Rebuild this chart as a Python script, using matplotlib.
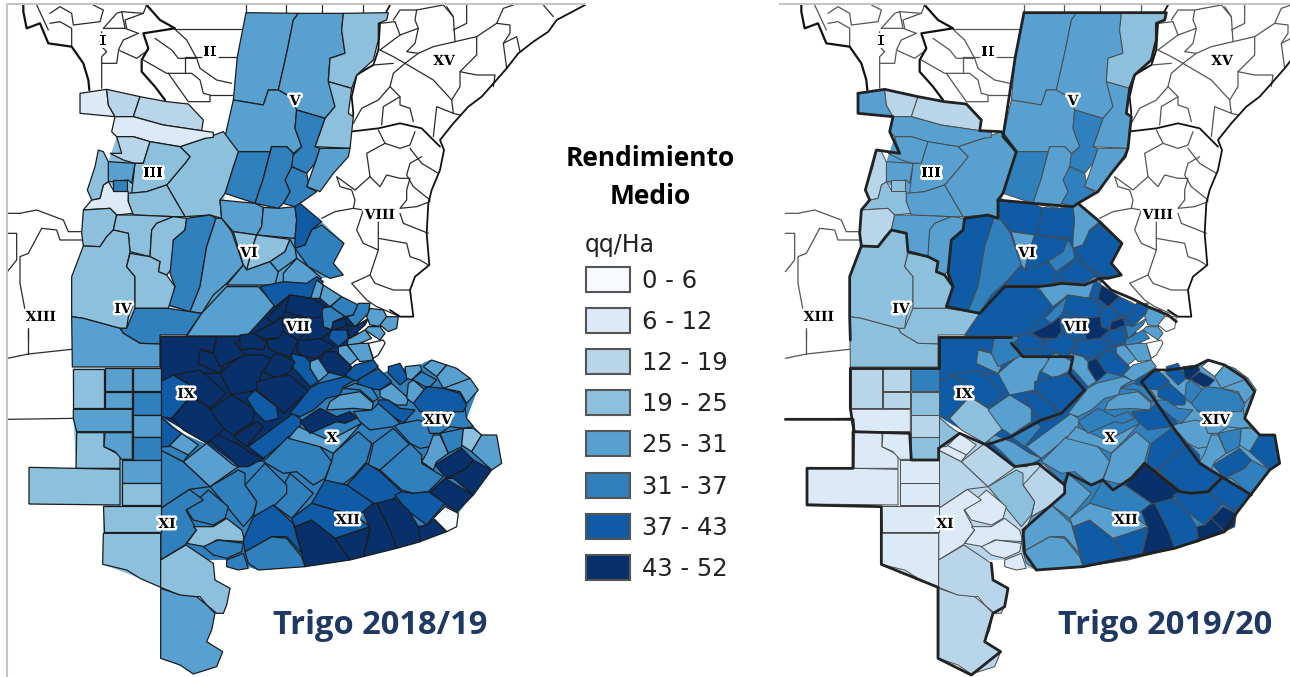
import matplotlib
matplotlib.use("Agg")
import matplotlib.pyplot as plt
import matplotlib.patheffects as pe
from matplotlib.patches import Polygon, Rectangle

# Clases de la leyenda
RANGOS = ["0 - 6", "6 - 12", "12 - 19", "19 - 25", "25 - 31", "31 - 37", "37 - 43", "43 - 52"]
COLORES = ["#f7fbff", "#dce9f6", "#b9d5ea", "#8dc0dd", "#57a0cf", "#3080bd", "#0f5ba6", "#08306b"]

# Departamentos, en coordenadas de trazado (x3) con origen propio
ORIGEN_N = (0, 0)
DEPTOS_N = [
    [(738,38),(895,40),(880,60),(862,150),(835,270),(805,270),(790,315),(700,300),(712,170)],
    [(895,40),(1030,40),(1025,90),(1035,160),(990,175),(985,240),(1005,320),(975,355),(890,330),(870,290),(835,270),(862,150),(880,60)],
    [(1030,40),(1165,38),(1160,60),(1135,70),(1135,120),(1120,180),(1070,225),(1055,265),(985,245),(990,175),(1035,160),(1025,90)],
    [(985,245),(1055,265),(1045,340),(1060,350),(1050,445),(945,440),(975,355),(1005,320)],
    [(700,300),(790,315),(805,270),(835,270),(870,290),(890,330),(885,385),(905,440),(880,460),(860,440),(815,440),(810,455),(715,455),(675,410)],
    [(890,330),(975,355),(945,440),(960,445),(945,490),(920,520),(875,500),(875,470),(905,440),(885,385)],
    [(960,445),(1050,445),(1045,470),(1000,520),(960,575),(920,560),(945,490)],
    [(875,500),(920,520),(925,545),(920,560),(950,575),(900,610),(885,620),(850,610),(870,575),(855,540)],
    [(715,455),(810,455),(790,535),(765,610),(675,580),(700,500)],
    [(815,440),(860,440),(880,460),(875,500),(855,540),(870,575),(850,610),(835,625),(765,610),(790,535)],
    [(615,415),(670,395),(715,455),(700,500),(675,580),(660,600),(665,655),(630,645),(555,650),(520,590),(500,555),(555,490),(570,470),(540,440)],
    [(240,280),(320,268),(325,315),(345,350),(240,340)],
    [(320,268),(420,290),(400,350),(345,350),(325,315)],
    [(420,290),(500,305),(565,312),(610,360),(605,392),(490,375),(400,350)],
    [(345,350),(400,350),(490,375),(605,392),(640,397),(640,412),(615,415),(540,440),(450,425),(400,410),(350,410),(335,395)],
    [(350,410),(400,410),(450,425),(430,490),(405,490),(370,480),(330,460),(365,460)],
    [(450,425),(540,440),(570,470),(555,490),(500,555),(440,575),(395,580),(405,490),(430,490)],
    [(325,485),(405,490),(395,550),(385,540),(340,545),(325,545)],
    [(310,555),(325,545),(340,570),(385,575),(385,605),(400,640),(350,645),(330,625),(250,630),(275,600),(300,595)],
    [(340,540),(382,540),(382,572),(340,572)],
    [(295,450),(310,455),(325,485),(325,545),(310,555),(300,595),(275,600),(262,570),(285,500)],
    [(385,580),(440,575),(500,555),(520,590),(555,650),(520,650),(400,645),(385,605)],
    [(250,630),(330,625),(350,645),(340,690),(320,710),(300,740),(250,738),(245,700)],
    [(350,645),(400,645),(520,650),(470,670),(455,690),(450,770),(390,755),(385,700),(340,690)],
    [(520,650),(560,655),(555,690),(520,720),(520,800),(500,825),(475,815),(480,785),(450,770),(455,690),(470,670)],
    [(560,655),(630,645),(648,655),(620,740),(600,860),(570,935),(505,915),(525,860),(510,820),(520,720),(555,690)],
    [(648,655),(665,655),(695,695),(730,795),(680,850),(640,885),(605,940),(570,935),(600,860),(620,740)],
    [(660,600),(765,610),(790,622),(785,680),(770,705),(700,695),(665,655)],
    [(790,622),(835,625),(885,620),(890,660),(885,715),(770,705),(785,680)],
    [(885,620),(900,610),(965,665),(935,690),(915,735),(885,745),(885,715),(890,660)],
    [(965,675),(1032,730),(1000,790),(1030,825),(990,835),(925,800),(885,745),(915,735),(935,690)],
    [(700,695),(770,705),(760,735),(740,810),(730,795)],
    [(770,705),(870,718),(855,755),(810,785),(740,810),(760,735)],
    [(730,795),(740,810),(810,785),(835,815),(825,855),(680,855)],
    [(870,718),(885,745),(890,775),(835,815),(810,785),(855,755)],
    [(890,775),(925,800),(965,835),(920,855),(850,850),(850,820)],
    [(250,738),(300,740),(320,710),(340,690),(385,700),(390,755),(380,800),(405,830),(405,900),(385,950),(380,985),(360,985),(250,955),(215,950),(215,830)],
    [(390,760),(450,770),(480,785),(475,815),(500,825),(525,860),(505,925),(405,925),(405,830),(380,800)],
    [(405,925),(505,925),(605,940),(560,1005),(480,1005),(480,1032),(420,1030),(370,1000),(360,985),(380,985)],
    [(215,950),(250,955),(360,985),(370,1000),(420,1030),(480,1032),(480,1101),(217,1101)],
    [(605,940),(680,860),(775,860),(825,915),(740,1008),(560,1008)],
]
CLASE_N_1819 = [4,4,3,3,4,5,4,5,5,5,3,1,2,2,1,2,3,4,1,5,3,3,3,3,3,5,4,4,4,6,5,3,3,4,4,4,3,3,5,4,4]
CLASE_N_1920 = [4,4,3,4,4,5,4,5,5,4,4,4,2,2,4,4,4,4,3,3,2,4,2,4,4,6,5,6,6,4,6,4,6,6,5,6,3,3,3,3,6]

ORIGEN_E = (240, 275)
DEPTOS_E = [
    [(60,35),(130,20),(200,25),(230,5),(250,20),(215,70),(150,60),(105,95),(85,70)],
    [(230,15),(250,30),(240,70),(212,70)],
    [(250,30),(305,65),(270,95),(240,70)],
    [(305,65),(355,90),(340,120),(315,125),(272,95)],
    [(355,85),(390,85),(385,115),(345,155),(320,125),(340,120)],
    [(245,100),(272,95),(315,125),(280,140),(275,165),(250,155)],
    [(315,130),(322,150),(285,165),(275,165),(280,140)],
    [(322,150),(345,155),(385,130),(375,150),(330,190)],
    [(390,100),(430,105),(440,125),(430,155),(390,150),(380,125)],
    [(440,125),(475,125),(470,160),(445,170),(420,150)],
    [(385,155),(420,155),(435,175),(420,195),(375,165)],
    [(148,60),(215,70),(255,95),(245,105),(247,125),(225,130),(205,130),(135,110)],
    [(135,75),(148,60),(135,110),(125,125),(100,145),(80,130)],
    [(205,130),(247,125),(250,155),(275,165),(240,195),(205,195),(200,170)],
    [(125,125),(205,130),(200,170),(175,195),(130,170)],
    [(100,145),(125,125),(130,170),(115,190),(70,190),(40,175)],
    [(0,180),(40,175),(80,200),(70,225),(40,220),(0,225)],
    [(80,195),(115,190),(130,170),(175,195),(150,245),(115,235),(85,220)],
    [(175,195),(205,195),(240,190),(285,215),(255,230),(230,250),(195,245),(170,230)],
    [(275,165),(320,165),(325,190),(295,215),(265,190)],
    [(330,190),(375,165),(395,190),(360,205),(320,215),(325,190)],
    [(295,215),(320,210),(355,250),(330,270),(295,235)],
    [(322,210),(360,205),(385,205),(400,255),(360,260)],
    [(385,205),(430,195),(435,205),(415,240),(400,250)],
    [(255,230),(285,230),(335,275),(315,305),(260,290),(235,265)],
    [(210,260),(235,250),(265,295),(235,320),(210,280)],
    [(155,235),(195,245),(210,260),(210,280),(235,320),(210,335),(180,300),(160,280)],
    [(100,240),(115,235),(165,260),(150,290),(110,310),(70,290)],
    [(50,320),(110,305),(150,300),(205,350),(130,415),(110,395),(50,345)],
    [(20,370),(45,345),(110,395),(115,430),(75,440),(45,410)],
    [(150,415),(210,340),(235,325),(315,305),(345,315),(310,335),(300,360),(260,370),(220,405),(180,425)],
    [(315,300),(345,270),(400,255),(415,275),(365,310),(345,318)],
    [(360,310),(415,280),(455,320),(420,345),(385,340),(350,325)],
    [(310,340),(345,325),(395,340),(415,370),(400,380),(360,345)],
    [(270,380),(300,360),(360,350),(400,385),(395,405),(340,400),(260,405)],
    [(420,345),(455,325),(505,370),(500,390),(470,390),(420,365)],
    [(445,275),(480,265),(505,310),(480,330),(445,295)],
    [(495,275),(540,270),(545,285),(515,315),(500,310)],
    [(515,315),(545,290),(590,315),(570,335),(555,335),(520,315)],
    [(505,325),(520,315),(555,345),(520,385),(500,370)],
    [(550,275),(575,255),(620,270),(590,305)],
    [(590,305),(620,270),(650,280),(690,310),(640,340),(610,340)],
    [(610,340),(690,310),(715,345),(680,385),(660,350)],
    [(520,385),(555,340),(565,335),(610,340),(660,355),(680,390),(670,410),(540,410)],
    [(415,375),(445,375),(480,400),(525,405),(490,445),(460,425),(415,390)],
    [(340,410),(395,405),(415,385),(460,425),(480,445),(460,455),(390,465),(360,440)],
    [(180,440),(240,400),(290,425),(330,410),(350,430),(315,445),(290,440),(210,475)],
]
CLASE_E_1819 = [6,4,4,5,5,5,7,7,4,4,4,7,7,7,7,7,7,7,7,6,4,4,4,0,7,4,6,7,7,6,6,6,6,5,4,4,6,4,5,4,4,4,4,6,6,5,7]
CLASE_E_1920 = [4,6,7,6,6,6,7,5,4,0,4,6,5,7,6,7,6,6,6,6,5,4,4,0,6,7,4,4,6,6,4,4,6,5,4,6,6,7,7,5,0,4,4,5,5,6,5]

ORIGEN_S = (0, 330)
DEPTOS_S = [
    [(745,350),(880,250),(905,270),(900,290),(865,325),(790,385)],
    [(640,310),(710,340),(755,370),(790,385),(745,410),(715,410),(670,365),(630,330)],
    [(700,320),(770,275),(790,290),(740,350)],
    [(790,395),(865,320),(960,350),(995,395),(975,445),(940,465),(890,425),(850,430)],
    [(865,325),(895,290),(985,330),(1010,320),(1085,280),(1040,330),(1000,370),(960,350)],
    [(1000,370),(1040,335),(1075,305),(1115,340),(1100,395),(1060,440),(1005,480),(975,450),(995,395)],
    [(1105,405),(1120,340),(1180,295),(1230,345),(1140,420)],
    [(1060,445),(1100,400),(1140,425),(1205,485),(1165,520),(1120,520),(1040,465)],
    [(1140,420),(1230,340),(1265,375),(1265,400),(1330,440),(1285,485),(1240,490),(1205,480)],
    [(1180,285),(1255,270),(1310,290),(1290,350),(1260,355),(1230,340)],
    [(1265,245),(1395,235),(1400,265),(1420,290),(1390,295),(1350,290),(1320,310),(1290,310)],
    [(1300,315),(1320,315),(1345,370),(1310,395),(1300,420),(1265,395),(1280,370)],
    [(1320,310),(1390,295),(1385,350),(1345,370)],
    [(1390,295),(1420,295),(1445,315),(1415,365),(1385,345)],
    [(1445,315),(1490,315),(1505,400),(1475,420),(1415,365)],
    [(1305,405),(1385,355),(1420,390),(1400,415),(1340,445)],
    [(1340,445),(1400,415),(1420,390),(1475,420),(1420,495),(1360,445)],
    [(1290,485),(1335,445),(1420,495),(1370,545),(1330,520)],
    [(1185,495),(1205,485),(1240,490),(1285,485),(1335,520),(1280,585),(1220,540)],
    [(1300,565),(1335,530),(1375,550),(1370,590),(1340,605)],
    [(1255,590),(1280,585),(1300,565),(1340,605),(1260,635)],
    [(1130,520),(1185,505),(1225,540),(1255,590),(1262,635),(1190,655),(1170,600)],
    [(1085,530),(1130,520),(1170,600),(1190,655),(1090,680),(1110,600)],
    [(1005,625),(1110,590),(1090,680),(1050,690)],
    [(885,590),(935,570),(1005,625),(1050,690),(915,710)],
    [(935,520),(975,450),(1040,465),(1120,520),(1070,560)],
    [(875,565),(935,520),(1070,560),(1110,590),(1005,625),(935,570),(885,590)],
    [(820,525),(870,430),(940,490),(875,565)],
    [(735,465),(795,400),(860,465),(860,490),(825,525),(760,560),(770,515)],
    [(630,470),(715,420),(735,430),(735,465),(770,515),(760,555),(730,590),(685,535)],
    [(560,540),(625,480),(685,530),(675,565),(640,585),(580,570)],
    [(482,535),(568,478),(610,510),(558,540),(590,600),(555,645),(482,690)],
    [(482,360),(550,395),(630,470),(568,478),(482,535)],
    [(550,395),(620,340),(700,405),(715,410),(630,470)],
    [(505,350),(545,310),(595,345),(565,375)],
    [(482,345),(505,345),(565,375),(550,395),(482,360)],
    [(482,260),(515,290),(545,310),(505,350),(482,350)],
    [(580,590),(640,590),(680,565),(725,600),(735,635),(650,630),(615,650),(560,640),(590,600)],
    [(610,650),(655,630),(730,640),(725,665),(680,685),(640,675)],
    [(680,690),(730,670),(745,715),(715,720),(680,710)],
    [(735,665),(815,620),(860,625),(905,680),(915,710),(775,720),(745,700)],
    [(730,630),(760,560),(820,525),(880,580),(885,600),(905,670),(860,620),(815,620),(735,665)],
    [(482,20),(650,20),(640,70),(605,55),(595,100),(660,130),(590,130),(482,155)],
    [(482,155),(520,135),(570,165),(575,195),(515,265),(482,260)],
    [(520,135),(600,120),(680,190),(630,235),(575,195),(570,165)],
    [(515,265),(575,200),(630,235),(675,295),(620,340),(550,300)],
    [(630,240),(695,195),(760,235),(760,275),(700,315),(670,295)],
    [(660,130),(725,75),(790,75),(820,90),(785,125),(770,180),(695,195)],
    [(600,60),(640,70),(655,95),(670,110),(660,130),(595,100)],
    [(650,20),(730,20),(705,40),(735,75),(660,110),(640,70)],
    [(218,117),(312,117),(312,235),(218,235)],
    [(315,115),(397,115),(397,182),(315,182)],
    [(315,185),(397,185),(397,235),(315,235)],
    [(398,115),(482,115),(482,182),(398,182)],
    [(398,185),(482,185),(482,255),(398,255)],
    [(220,238),(397,238),(397,305),(230,305),(220,265)],
    [(398,255),(482,255),(482,320),(398,320)],
    [(398,322),(482,322),(482,390),(398,390)],
    [(230,308),(312,308),(312,350),(360,375),(360,415),(228,415)],
    [(315,308),(397,308),(397,388),(365,388),(345,365),(312,350)],
    [(365,390),(482,390),(482,458),(365,458)],
    [(87,412),(360,418),(360,525),(87,522)],
    [(365,460),(482,460),(482,525),(365,525)],
    [(310,528),(482,528),(482,605),(312,605)],
    [(310,610),(482,610),(482,772),(420,745),(380,720),(308,703)],
    [(482,690),(558,645),(610,680),(640,700),(645,750),(690,775),(680,825),(670,850),(650,850),(620,825),(600,800),(550,800),(482,772)],
    [(482,775),(540,795),(590,800),(620,825),(645,850),(635,900),(620,935),(668,965),(650,1010),(580,1032),(540,1005),(482,985)],
]
CLASE_S_1819 = [6,7,7,5,4,5,5,6,5,5,5,4,5,3,4,7,7,7,6,0,7,7,7,7,7,6,6,5,5,5,5,5,5,4,4,5,6,3,5,5,5,6,7,6,7,7,7,7,7,7,3,4,4,4,5,4,4,5,3,4,4,3,3,3,3,3,4]
CLASE_S_1920 = [4,4,5,4,4,4,6,7,6,4,4,4,5,4,6,6,5,6,6,7,7,6,7,6,6,5,4,4,2,3,1,1,2,2,1,1,3,1,1,1,4,4,6,6,6,3,4,4,4,5,2,2,2,5,3,1,2,3,1,1,1,1,1,1,1,2,2]

# Fondo de cada zona, para cerrar las juntas entre departamentos
ZONAS_N = [
    [(350,410),(615,415),(670,395),(715,455),(675,580),(665,655),(555,650),(400,645),(385,605),(325,545),(325,485)],
    [(660,600),(965,665),(1032,730),(1000,790),(1030,825),(965,835),(780,860),(680,860),(605,940),(505,920),(525,860),(510,820),(520,720),(555,690),(560,655),(660,655)],
    [(250,738),(300,740),(340,690),(385,700),(390,755),(450,770),(500,825),(525,860),(505,925),(605,940),(560,1005),(215,950),(215,830)],
]
ZONA_N_1819 = [3, 4, 3]
ZONA_N_1920 = [4, 6, 3]
ZONAS_S = [
    [(482,20),(482,260),(620,340),(715,410),(790,395),(925,180),(1000,100),(1100,60),(1050,-50),(980,-115),(880,-115),(760,-50),(700,20)],
    [(482,360),(482,690),(680,690),(775,720),(915,710),(1190,655),(1340,605),(1375,550),(1475,420),(1505,400),(1490,315),(1445,315),(1400,265),(1430,185),(1400,145),(1340,105),(1290,90),(1250,110),(1170,120),(1090,155),(1000,100),(925,180),(790,395),(715,410),(620,340)],
    [(482,255),(482,690),(680,690),(775,720),(740,670),(735,600),(860,490),(860,465),(780,400),(710,410),(625,345),(545,310)],
    [(1090,155),(1130,210),(1180,285),(1265,400),(1330,440),(1420,495),(1475,420),(1505,400),(1490,315),(1445,315),(1400,265),(1430,185),(1400,145),(1340,105),(1290,90),(1250,110),(1170,120)],
    [(218,115),(482,115),(482,772),(420,745),(308,703),(310,525),(87,522),(87,412),(228,415),(220,265)],
]
ZONA_S_1819 = [7, 5, 5, 5, 3]
ZONA_S_1920 = [6, 5, 2, 4, 1]

# Limites de las regiones vecinas, sin datos
VECINOS_N = [
    [(150,40),(180,20),(215,40),(220,75),(300,65),(310,30),(280,15)],
    [(110,15),(145,90)],[(150,70),(180,65),(215,85),(215,140)],
    [(310,85),(375,85),(415,100)],[(375,85),(365,35),(350,40),(310,85)],
    [(365,35),(430,40),(440,15)],[(380,85),(375,60),(430,40)],
    [(415,100),(370,120),(355,150),(410,175),(445,150)],
    [(355,155),(350,190),(305,190)],
    [(305,95),(300,135),(320,155),(305,170),(305,265)],
    [(465,115),(515,150),(535,175),(590,175),(600,205),(650,240),(695,250)],
    [(525,88),(725,88)],[(525,88),(560,120),(590,175)],
    [(555,170),(715,170)],[(555,175),(555,215)],
    [(430,180),(500,220),(575,220),(600,240),(610,280),(630,285),(630,305),(565,305),(505,220)],
    [(630,285),(695,285)],
    [(738,15),(738,38)],[(858,15),(858,38)],[(965,15),(965,38)],[(1088,15),(1088,38)],
    [(22,640),(60,640),(110,630),(190,660),(205,695),(245,695)],
    [(22,700),(50,700),(50,780),(22,815)],
    [(245,720),(180,720),(170,690),(125,685),(85,760),(60,770),(60,850),(75,930)],
    [(85,985),(85,1020)],
]
GRUESOS_N = [
    [(70,15),(70,35),(80,85),(120,70),(145,130),(215,140),(250,190),(265,240),(268,270)],
    [(440,15),(480,60),(525,85),(430,100),(445,145),(425,180),(425,215),(465,260),(495,300)],
]
ORIGEN_P = (300, 0)
VECINOS_P = [
    [(240,150),(280,170),(315,190),(280,220),(270,260),(235,300),(185,325),(160,370)],
    [(160,225),(220,195),(280,190)],
    [(315,190),(400,240),(455,300),(480,260),(480,215),(530,165),(530,110),(465,125),(400,140),(355,160),(315,190)],
    [(480,215),(530,225),(585,225),(580,260)],
    [(530,110),(590,70),(630,75),(630,100),(610,130),(620,205)],
    [(610,130),(650,110),(660,155)],
    [(270,260),(300,290),(300,315),(330,325),(340,365)],
    [(300,290),(250,320),(245,375)],
    [(455,300),(460,340),(410,320),(400,410)],[(460,340),(480,345)],
    [(465,125),(460,50),(440,20)],[(460,90),(500,70),(500,15)],
    [(240,70),(285,65),(300,105),(355,85),(345,60),(350,30),(300,30),(280,60)],
    [(240,150),(300,105)],[(355,85),(345,130),(320,155),(355,160)],
    [(350,30),(430,15),(460,50)],[(590,70),(610,25),(640,15)],[(730,15),(760,50)],
    [(235,390),(255,430),(300,445),(330,435),(345,395)],
    [(255,430),(200,460),(210,530),(240,560),(260,525),(300,535),(330,535),(320,570),(320,600),(300,625),(350,620),(390,605)],
    [(210,530),(165,570),(110,530),(120,560),(155,570),(165,600),(160,625),(105,635),(65,655)],
    [(160,625),(190,630),(170,690),(190,730),(235,750),(235,665)],
    [(330,445),(365,490),(415,520)],
    [(365,470),(330,490),(320,525),(340,560),(390,600)],
    [(300,640),(310,670),(385,700)],
    [(235,715),(320,730),(330,770),(360,780),(385,795)],
    [(235,750),(210,825),(225,850),(280,870),(330,870)],
    [(210,825),(155,850),(200,900),(230,920),(300,950)],
]
GRUESOS_P = [
    [(855,15),(770,60),(745,95),(700,125),(655,160),(620,205),(585,245),(545,290),(505,320),(460,370),(420,420),(432,450),(420,510),(395,570),(385,610),(380,700),(388,795),(345,830),(330,870),(340,950),(300,950),(270,930)],
    [(270,15),(240,70),(235,150),(220,195),(170,225),(155,290),(160,340),(150,390)],
    [(150,395),(235,385),(300,370),(365,385),(420,440)],
]
VECINOS_S = [
    [(22,268),(225,265)],[(22,85),(85,72),(215,58)],[(85,0),(85,72)],
]

# Limites gruesos del mapa derecho
REGIONES_N = [
    [(738,38),(1165,38),(1160,60),(1135,70),(1135,120),(1120,180),(1070,225),(1055,265),(1045,340),(1060,350),(1050,445),(1040,470),(1000,520),(960,575),(900,610)],
    [(738,38),(712,170),(675,410),(715,455),(675,580),(660,600)],
    [(660,600),(765,610),(885,620),(900,610),(965,665),(1032,730),(1000,790),(1030,825),(990,835),(965,835),(920,855),(850,850),(825,855),(780,860),(680,860),(605,940),(505,920),(525,860),(510,820),(520,720),(555,690),(560,655),(630,645),(660,655),(660,600)],
    [(240,280),(320,268),(420,290),(500,305),(565,312),(610,360),(605,392),(670,395),(715,455)],
    [(240,280),(240,340),(345,350),(335,395),(365,460),(295,450),(262,570),(275,600),(250,630),(245,700),(250,738),(300,740),(340,690),(385,700),(390,755),(450,770),(480,785),(475,815),(500,825),(525,860)],
    [(250,738),(215,830),(215,950),(217,1020)],
    [(965,835),(1000,870),(1060,895),(1110,920),(1170,945),(1195,965)],
]
REGIONES_S = [
    [(217,115),(482,115),(482,20),(700,20)],
    [(22,268),(225,268),(228,305),(395,310),(400,390),(482,390),(482,355)],
    [(482,355),(545,310),(625,345),(710,410),(780,400),(860,465),(860,490),(735,600),(740,670),(775,720)],
    [(217,115),(217,235),(228,305)],[(225,305),(225,415),(87,415),(87,525),(310,530),(310,703),(480,772),(480,985),(580,1035),(668,965),(620,935),(645,850),(680,830),(690,775),(645,750),(640,700)],
    [(775,720),(915,710),(1190,655),(1340,605),(1375,550),(1475,420),(1505,400),(1490,315),(1445,315),(1400,265),(1430,185),(1400,145),(1340,105),(1290,90),(1250,110),(1170,120)],
    [(1090,155),(1130,210),(1180,285),(1265,400),(1330,440),(1420,495)],
    [(1330,445),(1290,485),(1240,490),(1205,485),(1100,400),(1060,445),(1005,480),(975,450),(940,465),(870,430),(860,465)],
    [(700,40),(735,80),(885,80),(875,130),(920,180),(850,250),(790,270),(700,320),(625,345)],
    [(1090,155),(1130,120),(1170,120)],
]

ETIQUETAS = ["I", "II", "XV", "V", "III", "VIII", "VI", "XIII", "IV", "VII", "IX", "X", "XIV", "XI", "XII"]
ETIQ_X = [103, 210, 444, 295, 153, 380, 249, 41, 123, 298, 186, 332, 438, 167, 348]
ETIQ_Y = [41, 52, 61, 101, 173, 215, 253, 317, 309, 327, 394, 438, 420, 524, 520]

DESPLAZ = 778


def escala(puntos, origen, dx=0):
    return [(origen[0] + x / 3 + dx, origen[1] + y / 3) for x, y in puntos]


def dibuja_mapa(ax, clases, dx, borde, ancho):
    grupos = [(ZONAS_N, clases[0], ORIGEN_N, False), (ZONAS_S, clases[1], ORIGEN_S, False),
              (DEPTOS_N, clases[2], ORIGEN_N, True), (DEPTOS_S, clases[3], ORIGEN_S, True),
              (DEPTOS_E, clases[4], ORIGEN_E, True)]
    for deptos, cls, origen, con_borde in grupos:
        for pts, c in zip(deptos, cls):
            ax.add_patch(Polygon(escala(pts, origen, dx), closed=True, facecolor=COLORES[c],
                                 edgecolor=borde if con_borde else "none", linewidth=ancho, zorder=2))


def dibuja_lineas(ax, lineas, origen, dx, color, ancho, z):
    for pts in lineas:
        xy = escala(pts, origen, dx)
        ax.plot([p[0] for p in xy], [p[1] for p in xy], color=color, linewidth=ancho, zorder=z,
                solid_joinstyle="round", solid_capstyle="round")


fig = plt.figure(figsize=(12.9, 6.77), dpi=100)
ax = fig.add_axes([0, 0, 1, 1])
ax.set_xlim(0, 1290)
ax.set_ylim(677, 0)
ax.axis("off")

dibuja_mapa(ax, [ZONA_N_1819, ZONA_S_1819, CLASE_N_1819, CLASE_S_1819, CLASE_E_1819], 0, "#1c1c1c", 0.9)
dibuja_mapa(ax, [ZONA_N_1920, ZONA_S_1920, CLASE_N_1920, CLASE_S_1920, CLASE_E_1920], DESPLAZ, "#4a4a4a", 0.7)

for dx, col in [(0, "#2a2a2a"), (DESPLAZ, "#555555")]:
    dibuja_lineas(ax, VECINOS_N, ORIGEN_N, dx, col, 0.9, 1)
    dibuja_lineas(ax, VECINOS_P, ORIGEN_P, dx, col, 0.9, 1)
    dibuja_lineas(ax, VECINOS_S, ORIGEN_S, dx, col, 0.9, 1)
    dibuja_lineas(ax, GRUESOS_N, ORIGEN_N, dx, "#111111", 1.6, 1)
    dibuja_lineas(ax, GRUESOS_P, ORIGEN_P, dx, "#111111", 1.3, 1)

dibuja_lineas(ax, REGIONES_N, ORIGEN_N, DESPLAZ, "#222222", 2.0, 3)
dibuja_lineas(ax, REGIONES_S, ORIGEN_S, DESPLAZ, "#222222", 2.0, 3)

# Marco gris de las capturas
ax.plot([7, 7, 585], [677, 4, 4], color="#c4c4c4", linewidth=1.5, zorder=4)
ax.plot([780, 1290], [4, 4], color="#c4c4c4", linewidth=1.5, zorder=4)

for dx in (0, DESPLAZ):
    for t, x, y in zip(ETIQUETAS, ETIQ_X, ETIQ_Y):
        ax.text(x + dx, y, t, ha="center", va="center", fontsize=10, fontweight="bold",
                family="DejaVu Serif", color="black", zorder=6,
                path_effects=[pe.withStroke(linewidth=3.5, foreground="white")])

# Leyenda
ax.text(650, 158, "Rendimiento", ha="center", va="center", fontsize=19, fontweight="bold", family="Open Sans", color="black")
ax.text(650, 196, "Medio", ha="center", va="center", fontsize=19, fontweight="bold", family="Open Sans", color="black")
ax.text(585, 245, "qq/Ha", ha="left", va="center", fontsize=17, family="DejaVu Sans", color="#222222")
for i, (r, c) in enumerate(zip(RANGOS, COLORES)):
    y0 = 267 + i * 41.1
    ax.add_patch(Rectangle((586, y0), 44, 25, facecolor=c, edgecolor="#555555", linewidth=1.5, zorder=3))
    ax.text(642, y0 + 14, r, ha="left", va="center", fontsize=17.5, family="DejaVu Sans", color="#222222")

ax.text(380.5, 626, "Trigo 2018/19", ha="center", va="center", fontsize=23.5, fontweight="bold", family="Open Sans", color="#1f3864")
ax.text(1165, 626, "Trigo 2019/20", ha="center", va="center", fontsize=23.5, fontweight="bold", family="Open Sans", color="#1f3864")

fig.savefig("out.png", dpi=100)
